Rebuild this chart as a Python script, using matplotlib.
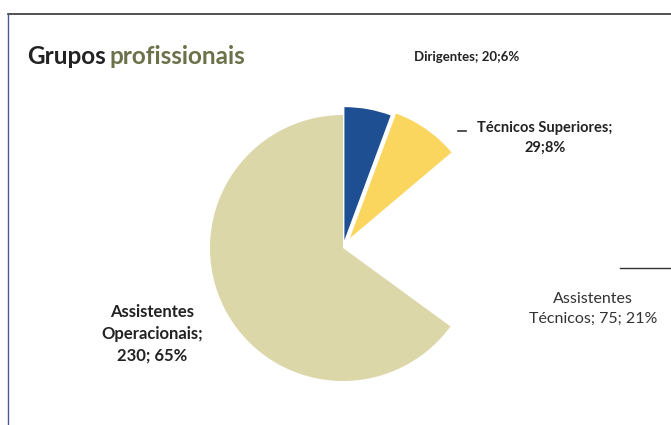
import matplotlib
matplotlib.use("Agg")
import matplotlib.pyplot as plt
from matplotlib.lines import Line2D

categories = ["Dirigentes", "Técnicos Superiores", "Assistentes Técnicos", "Assistentes Operacionais"]
values = [20, 29, 75, 230]
percents = [6, 8, 21, 65]
labels = ["Dirigentes; 20;6%",
          "Técnicos Superiores;\n29;8%",
          "Assistentes\nTécnicos; 75; 21%",
          "Assistentes\nOperacionais;\n230; 65%"]
colors = ["#1f4f93", "#fbd65e", "#ffffff", "#dcd7a9"]
explode = [0.06, 0.09, 0.0, 0.0]

W, H = 671, 425
fig = plt.figure(figsize=(W / 100, H / 100), dpi=100)
fig.patch.set_facecolor("white")
plt.rcParams['font.family'] = ['Lato', 'DejaVu Sans']

def px(x, y):
    return x / W, 1 - y / H

# frame lines (top and left)
fig.add_artist(Line2D([8 / W, 1.0], [1 - 14 / H, 1 - 14 / H], color="#333333", lw=1.2))
fig.add_artist(Line2D([8 / W, 8 / W], [1 - 14 / H, 0.0], color="#4a5a8a", lw=1.0))

# pie
cx, cy, r = 343, 248, 133
ax = fig.add_axes([(cx - r) / W, (H - cy - r) / H, 2 * r / W, 2 * r / H])
ax.pie(values, colors=colors, explode=explode, startangle=90, counterclock=False,
       radius=1.0, wedgeprops=dict(linewidth=0))
ax.set_xlim(-1, 1)
ax.set_ylim(-1, 1)
ax.set_aspect("auto")
ax.axis("off")

# title
x0, y0 = px(27, 56)
t1 = fig.text(x0, y0, "Grupos", fontsize=17.5, fontweight="bold", color="#222222", va="center", ha="left")
fig.canvas.draw()
bb = t1.get_window_extent()
fig.text(bb.x1 / W + 4 / W, y0, "profissionais", fontsize=17.5, fontweight="bold", color="#6b724a",
         va="center", ha="left")

# labels
fig.text(*px(467, 57), labels[0], fontsize=9.5, fontweight="bold", color="#222222", ha="center", va="center")
fig.text(*px(545, 138), labels[1], fontsize=10.5, fontweight="bold", color="#222222", ha="center", va="center",
         linespacing=1.5)
fig.text(*px(593, 309), labels[2], fontsize=11.5, color="#333333", ha="center", va="center", linespacing=1.5)
fig.text(*px(152, 334), labels[3], fontsize=12, fontweight="bold", color="#222222", ha="center", va="center",
         linespacing=1.45)

# small leader marks
fig.add_artist(Line2D([px(458, 0)[0], px(466, 0)[0]], [px(0, 131)[1]] * 2, color="#333333", lw=1.2))
fig.add_artist(Line2D([px(620, 0)[0], 1.0], [px(0, 268)[1]] * 2, color="#333333", lw=1.0))

fig.savefig("out.png", dpi=100, facecolor="white")
